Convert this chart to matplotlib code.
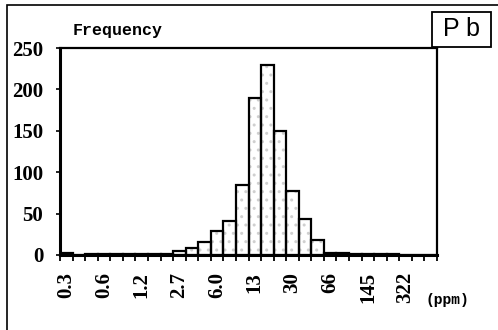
import numpy as np
import matplotlib.pyplot as plt
from matplotlib.patches import Rectangle

# frequency per class (30 log-spaced classes of Pb concentration)
counts = [3, 0, 1, 1, 1, 1, 1, 1, 1, 5,
          8.5, 16, 29, 41, 85, 190, 230, 150, 77, 43,
          18, 3, 2, 1, 1, 1, 1, 0, 0, 0]
tick_labels = ['0.3', '0.6', '1.2', '2.7', '6.0', '13', '30', '66', '145', '322']
label_bins = [0, 3, 6, 9, 12, 15, 18, 21, 24, 27]
y_ticks = [0, 50, 100, 150, 200, 250]


def main():
    W, H = 498, 330
    fig = plt.figure(figsize=(W / 100, H / 100), dpi=100)
    fig.patch.set_facecolor('white')

    # scanned frame: only left and top lines visible
    fig.add_artist(Rectangle((7 / W, -0.1), 1.2, (H - 5) / H + 0.1,
                             transform=fig.transFigure, fill=False,
                             edgecolor='black', linewidth=1.2))

    ax = fig.add_axes([60 / W, 1 - 255 / H, 377 / W, 207 / H])
    x = np.arange(len(counts))

    # faint stipple inside the bars, then the black outlines
    ax.bar(x + 0.5, counts, width=1.0, color='white', edgecolor='#d0d0d0',
           hatch='..', linewidth=0)
    ax.bar(x + 0.5, counts, width=1.0, fill=False, edgecolor='black',
           linewidth=1.6)

    ax.set_xlim(0, len(counts))
    ax.set_ylim(0, 250)

    ax.set_xticks(np.arange(len(counts) + 1))
    ax.set_xticklabels([])
    ax.tick_params(axis='x', which='major', direction='out', length=4, width=1.3)
    ax.set_xticks(np.array(label_bins) + 0.5, minor=True)
    ax.set_xticklabels(tick_labels, minor=True, rotation=90,
                       fontfamily='Liberation Serif', fontweight='bold', fontsize=15)
    ax.tick_params(axis='x', which='minor', length=0, pad=12)

    ax.set_yticks(y_ticks)
    ax.set_yticklabels([str(v) for v in y_ticks], fontfamily='Liberation Serif',
                       fontweight='bold', fontsize=15)
    ax.tick_params(axis='y', direction='out', length=3, width=1.2, pad=9)

    for side in ['left', 'bottom']:
        ax.spines[side].set_linewidth(2.2)
    for side in ['top', 'right']:
        ax.spines[side].set_linewidth(1.6)

    fig.text(73 / W, 1 - 31 / H, 'Frequency', fontfamily='Liberation Mono',
             fontweight='bold', fontsize=12, va='center', ha='left')
    fig.text(425 / W, 1 - 300 / H, '(ppm)', fontfamily='Liberation Mono',
             fontweight='bold', fontsize=10.5, va='center', ha='left')

    # element tag box
    fig.add_artist(Rectangle((432 / W, 1 - 47 / H), 59 / W, 35 / H,
                             transform=fig.transFigure, fill=False,
                             edgecolor='black', linewidth=1.3))
    fig.text(461.5 / W, 1 - 29.5 / H, 'P b', fontfamily='Liberation Sans',
             fontsize=18, va='center', ha='center')

    fig.savefig('out.png', dpi=100)


if __name__ == '__main__':
    main()
